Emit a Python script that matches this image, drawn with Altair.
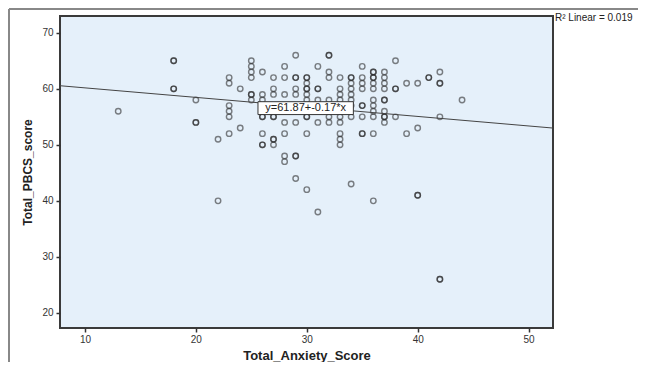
import altair as alt
import pandas as pd

# x value -> y values (duplicates = overplotted, darker points)
anxiety = [13, 18, 18, 18, 18, 20, 20, 20, 22, 22,
           23, 23, 23, 23, 23, 23, 24, 24,
           25, 25, 25, 25, 25, 25, 25,
           26, 26, 26, 26, 26, 26, 26, 26, 26,
           27, 27, 27, 27, 27, 27, 27, 27, 27,
           28, 28, 28, 28, 28, 28, 28,
           29, 29, 29, 29, 29, 29, 29, 29, 29, 29,
           30, 30, 30, 30, 30, 30, 30, 30, 30, 30, 30, 30,
           31, 31, 31, 31, 31, 31, 31,
           32, 32, 32, 32, 32, 32, 32, 32,
           33, 33, 33, 33, 33, 33, 33, 33, 33, 33, 33,
           34, 34, 34, 34, 34, 34, 34, 34, 34,
           35, 35, 35, 35, 35, 35, 35, 35, 35,
           36, 36, 36, 36, 36, 36, 36, 36, 36, 36, 36, 36,
           37, 37, 37, 37, 37, 37, 37, 37, 37, 37,
           38, 38, 38, 38,
           39, 39,
           40, 40, 40, 40,
           41, 41,
           42, 42, 42, 42, 42, 42,
           44]
pbcs = [56, 65, 65, 60, 60, 58, 54, 54, 51, 40,
        62, 61, 57, 56, 55, 52, 60, 53,
        65, 64, 63, 62, 59, 59, 58,
        63, 59, 58, 55, 55, 52, 50, 50, 57,
        62, 60, 59, 55, 55, 51, 51, 50, 57,
        64, 62, 59, 54, 52, 48, 47,
        66, 62, 62, 60, 59, 54, 48, 48, 44, 57,
        62, 62, 61, 60, 60, 59, 58, 55, 55, 52, 42, 56,
        64, 60, 60, 58, 54, 38, 57,
        66, 66, 63, 62, 58, 55, 54, 56,
        62, 60, 59, 58, 57, 56, 55, 54, 52, 51, 50,
        62, 62, 61, 60, 59, 58, 57, 55, 43,
        64, 62, 61, 60, 57, 57, 55, 52, 52,
        63, 63, 62, 62, 61, 60, 58, 57, 56, 55, 52, 40,
        63, 62, 61, 60, 58, 58, 56, 55, 55, 54,
        65, 60, 60, 55,
        61, 52,
        61, 53, 41, 41,
        62, 62,
        63, 61, 61, 55, 26, 26,
        58]

# fit line as reported
intercept = 61.87
slope = -0.17
x_domain = [7.75, 52.2]
y_domain = [17.3, 73.0]
x_ticks = [10, 20, 30, 40, 50]
y_ticks = [20, 30, 40, 50, 60, 70]
eq_text = "y=61.87+-0.17*x"
r2_text = "R\u00b2 Linear = 0.019"
eq_box_x = [25.6, 34.2]
eq_box_y = [55.4, 57.7]
eq_pos = [29.9, 56.5]

W, H = 493, 312

pts = pd.DataFrame({"Total_Anxiety_Score": anxiety, "Total_PBCS_score": pbcs})
line_df = pd.DataFrame({"x": x_domain})
box_df = pd.DataFrame({"x": [eq_box_x[0]], "x2": [eq_box_x[1]],
                       "y": [eq_box_y[0]], "y2": [eq_box_y[1]],
                       "tx": [eq_pos[0]], "ty": [eq_pos[1]], "t": [eq_text]})

xs = alt.Scale(domain=x_domain, nice=False, zero=False)
ys = alt.Scale(domain=y_domain, nice=False, zero=False)

xax = alt.Axis(values=x_ticks, title="Total_Anxiety_Score", grid=False, domain=False,
               tickColor="#333", tickSize=4, tickWidth=1.5, labelFontSize=10, labelColor="#333",
               labelFont="Liberation Sans", titleFont="Liberation Sans",
               titleFontSize=13, titleFontWeight="bold", titleColor="#222",
               titlePadding=5, labelPadding=2)
yax = alt.Axis(values=y_ticks, title="Total_PBCS_score", grid=False, domain=False,
               tickColor="#333", tickSize=4, tickWidth=1.5, labelFontSize=10, labelColor="#333",
               labelFont="Liberation Sans", titleFont="Liberation Sans",
               titleFontSize=12, titleFontWeight="bold", titleColor="#222",
               titlePadding=7, labelPadding=3)

points = alt.Chart(pts).mark_point(
    shape="circle", filled=False, size=30, strokeWidth=1.4,
    color="#222", strokeOpacity=0.8
).encode(
    x=alt.X("Total_Anxiety_Score:Q", scale=xs, axis=xax),
    y=alt.Y("Total_PBCS_score:Q", scale=ys, axis=yax),
)

fit = alt.Chart(line_df).transform_calculate(
    y=f"{intercept} + ({slope}) * datum.x"
).mark_line(color="#444", strokeWidth=1, clip=True).encode(
    x=alt.X("x:Q", scale=xs),
    y=alt.Y("y:Q", scale=ys),
)

box = alt.Chart(box_df).mark_rect(fill="white", stroke="#333", strokeWidth=1).encode(
    x=alt.X("x:Q", scale=xs), x2="x2:Q",
    y=alt.Y("y:Q", scale=ys), y2="y2:Q",
)
eq = alt.Chart(box_df).mark_text(font="Liberation Sans", fontSize=11, color="#222",
                                 align="center", baseline="middle").encode(
    x=alt.X("tx:Q", scale=xs), y=alt.Y("ty:Q", scale=ys), text="t:N"
)

r2 = alt.Chart(pd.DataFrame({"t": [r2_text]})).mark_text(
    font="Liberation Sans", fontSize=10, color="#222", align="left", baseline="middle"
).encode(x=alt.value(W + 2), y=alt.value(2), text="t:N")

frame_h = alt.Chart(pd.DataFrame({"a": [0]})).mark_rule(color="#888", strokeWidth=2).encode(
    x=alt.value(-51), x2=alt.value(640), y=alt.value(-7))
frame_v = alt.Chart(pd.DataFrame({"a": [0]})).mark_rule(color="#888", strokeWidth=2).encode(
    x=alt.value(-51), y=alt.value(-7), y2=alt.value(400))

chart = alt.layer(frame_h, frame_v, points, fit, box, eq, r2).properties(
    width=W, height=H,
    autosize=alt.AutoSizeParams(type="none"),
    padding={"left": 52, "top": 8, "right": 85, "bottom": 34},
).configure_view(
    fill="#e5f0fa", stroke="#3a3a3a", strokeWidth=2
)

chart.save("out.html", embed_options={"renderer": "svg", "actions": False})
